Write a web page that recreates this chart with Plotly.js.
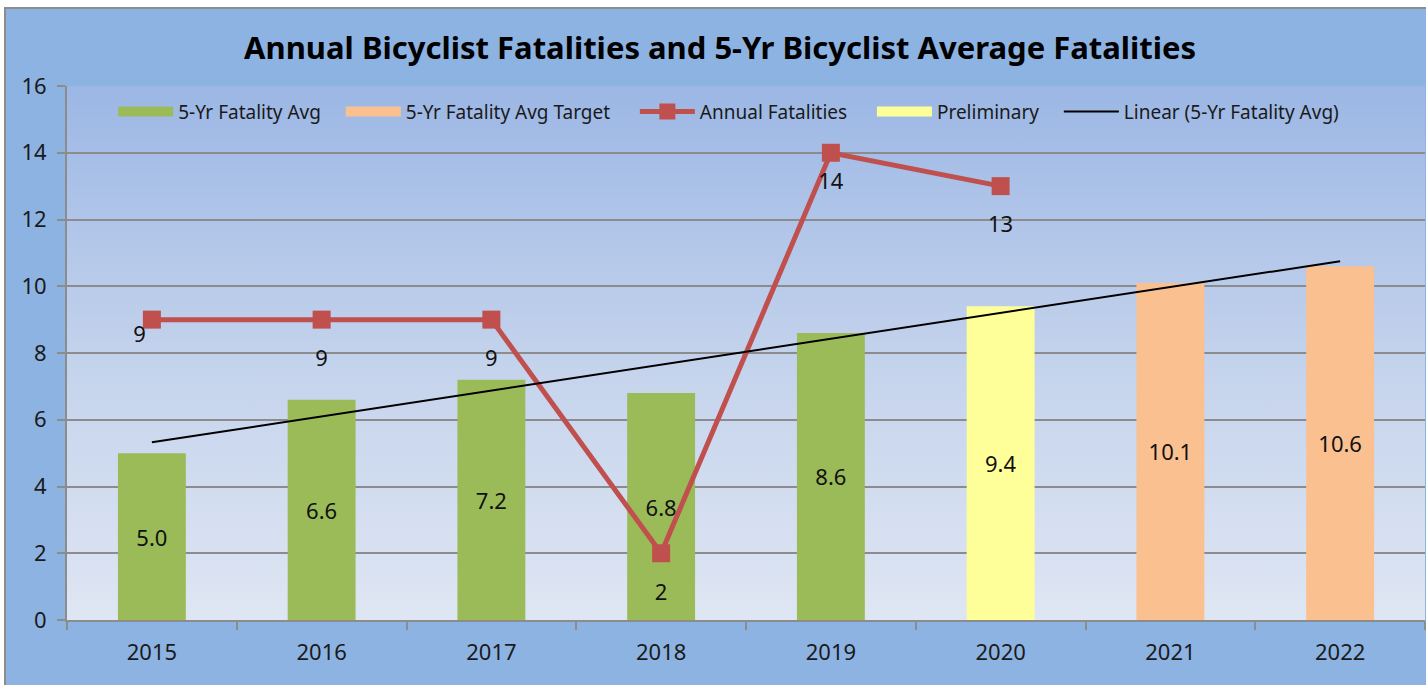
<!DOCTYPE html>
<html>
<head>
<meta charset="utf-8">
<script src="https://cdn.plot.ly/plotly-3.0.1.min.js"></script>
<style>
  html, body { margin:0; padding:0; background:#ffffff; width:1426px; height:685px; overflow:hidden; }
  #frame { position:absolute; left:4px; top:7px; width:1422px; height:678px; background:#8DB3E2;
           border-left:2px solid #8C8C8C; border-top:2px solid #8C8C8C; box-sizing:border-box; }
  #chart { position:absolute; left:0; top:0; width:1426px; height:685px;
           background: linear-gradient(to bottom, #9CB7E5 0%, #C3D2EC 50%, #DFE6F3 100%) 67px 86px / 1358px 534px no-repeat; }
</style>
</head>
<body>
<div id="frame"></div>
<div id="chart"></div>
<script>
// ---- data ----
const years = ['2015','2016','2017','2018','2019','2020','2021','2022'];
const avgValues = [5.0, 6.6, 7.2, 6.8, 8.6, null, null, null];
const prelimValues = [null, null, null, null, null, 9.4, null, null];
const targetValues = [null, null, null, null, null, null, 10.1, 10.6];
const annualValues = [9, 9, 9, 2, 14, 13, null, null];

// linear trendline over the 5-yr average bar values
const combined = years.map((_, i) => avgValues[i] ?? prelimValues[i] ?? targetValues[i]);
const n = combined.length;
const xs = combined.map((_, i) => i + 1);
const mx = xs.reduce((a, b) => a + b, 0) / n;
const my = combined.reduce((a, b) => a + b, 0) / n;
let sxy = 0, sxx = 0;
for (let i = 0; i < n; i++) { sxy += (xs[i] - mx) * (combined[i] - my); sxx += (xs[i] - mx) ** 2; }
const slope = sxy / sxx, icpt = my - slope * mx;
const trendValues = xs.map(x => icpt + slope * x);

const FONT = '"Noto Sans", sans-serif';
const labelFont = {family: FONT, size: 22, color: '#111111'};
const nulls = years.map(() => null);
const pad = k => '\u00A0'.repeat(k);

const barCommon = {
  type: 'bar', x: years, width: 0.4, showlegend: false,
  textposition: 'inside', insidetextanchor: 'middle', textangle: 0,
  texttemplate: '%{y:.1f}', textfont: labelFont, constraintext: 'none',
  hoverinfo: 'skip', cliponaxis: false
};
// legend swatch helper (no marks drawn: all-null values)
const swatch = (name, color, rank) => ({
  type: 'scatter', mode: 'lines', name: name, x: years, y: nulls,
  line: {color: color, width: 13}, legendrank: rank, hoverinfo: 'skip'
});

const traces = [
  Object.assign({}, barCommon, {name: '5-Yr Fatality Avg', y: avgValues, marker: {color: '#9BBB59'}}),
  Object.assign({}, barCommon, {name: '5-Yr Fatality Avg Target', y: targetValues, marker: {color: '#FAC090'}}),
  Object.assign({}, barCommon, {name: 'Preliminary', y: prelimValues, marker: {color: '#FFFF99'}}),
  swatch('5-Yr Fatality Avg' + pad(3), '#9BBB59', 1),
  swatch('5-Yr Fatality Avg Target' + pad(4), '#FAC090', 2),
  {
    type: 'scatter', mode: 'lines+markers', name: 'Annual Fatalities' + pad(4), legendrank: 3,
    x: years, y: annualValues,
    line: {color: '#C0504D', width: 5},
    marker: {symbol: 'square', size: 18, color: '#C0504D'},
    hoverinfo: 'skip', cliponaxis: false
  },
  {
    // data labels for the annual series (invisible markers set the label offset)
    type: 'scatter', mode: 'markers+text', showlegend: false,
    x: years, y: annualValues, text: annualValues.map(v => v == null ? '' : String(v)),
    textposition: ['bottom left','bottom center','bottom center','bottom center','bottom center','bottom center'],
    textfont: labelFont,
    marker: {size: [8, 46, 46, 46, 30, 46], opacity: 0, color: '#C0504D'},
    hoverinfo: 'skip', cliponaxis: false
  },
  swatch('Preliminary' + pad(3), '#FFFF99', 4),
  {
    type: 'scatter', mode: 'lines', name: 'Linear (5-Yr Fatality Avg)', legendrank: 5,
    x: years, y: trendValues, line: {color: '#000000', width: 2}, hoverinfo: 'skip'
  }
];

const layout = {
  width: 1426, height: 685,
  paper_bgcolor: 'rgba(0,0,0,0)', plot_bgcolor: 'rgba(0,0,0,0)',
  margin: {l: 67, r: 1, t: 86, b: 65, pad: 0},
  barmode: 'overlay', bargap: 0.6,
  font: {family: FONT, color: '#111111'},
  title: {
    text: '<b>Annual Bicyclist Fatalities and 5-Yr Bicyclist Average Fatalities</b>',
    font: {family: FONT, size: 31, color: '#000000'},
    x: 0.505, xanchor: 'center', y: 1 - 48/685, yanchor: 'middle'
  },
  xaxis: {
    type: 'category', tickson: 'boundaries', ticks: 'outside', ticklen: 8, tickwidth: 2, tickcolor: '#8C8C8C',
    showgrid: false, showline: true, linecolor: '#8C8C8C', linewidth: 2,
    tickfont: {family: FONT, size: 22, color: '#1a1a1a'}, ticklabelstandoff: 12
  },
  yaxis: {
    range: [0, 16], dtick: 2, tick0: 0, ticks: 'outside', ticklen: 8, tickwidth: 2, tickcolor: '#8C8C8C',
    showgrid: true, gridcolor: '#8C8C8C', gridwidth: 2, zeroline: false,
    showline: true, linecolor: '#8C8C8C', linewidth: 2,
    tickfont: {family: FONT, size: 22, color: '#1a1a1a'}, ticklabelstandoff: 6
  },
  showlegend: true,
  legend: {
    orientation: 'h', x: 0.034, xanchor: 'left', y: 0.952, yanchor: 'middle',
    bgcolor: 'rgba(0,0,0,0)', font: {family: FONT, size: 19, color: '#1a1a1a'},
    traceorder: 'normal', itemwidth: 55
  }
};

Plotly.newPlot('chart', traces, layout, {staticPlot: true, displayModeBar: false});
</script>
</body>
</html>
